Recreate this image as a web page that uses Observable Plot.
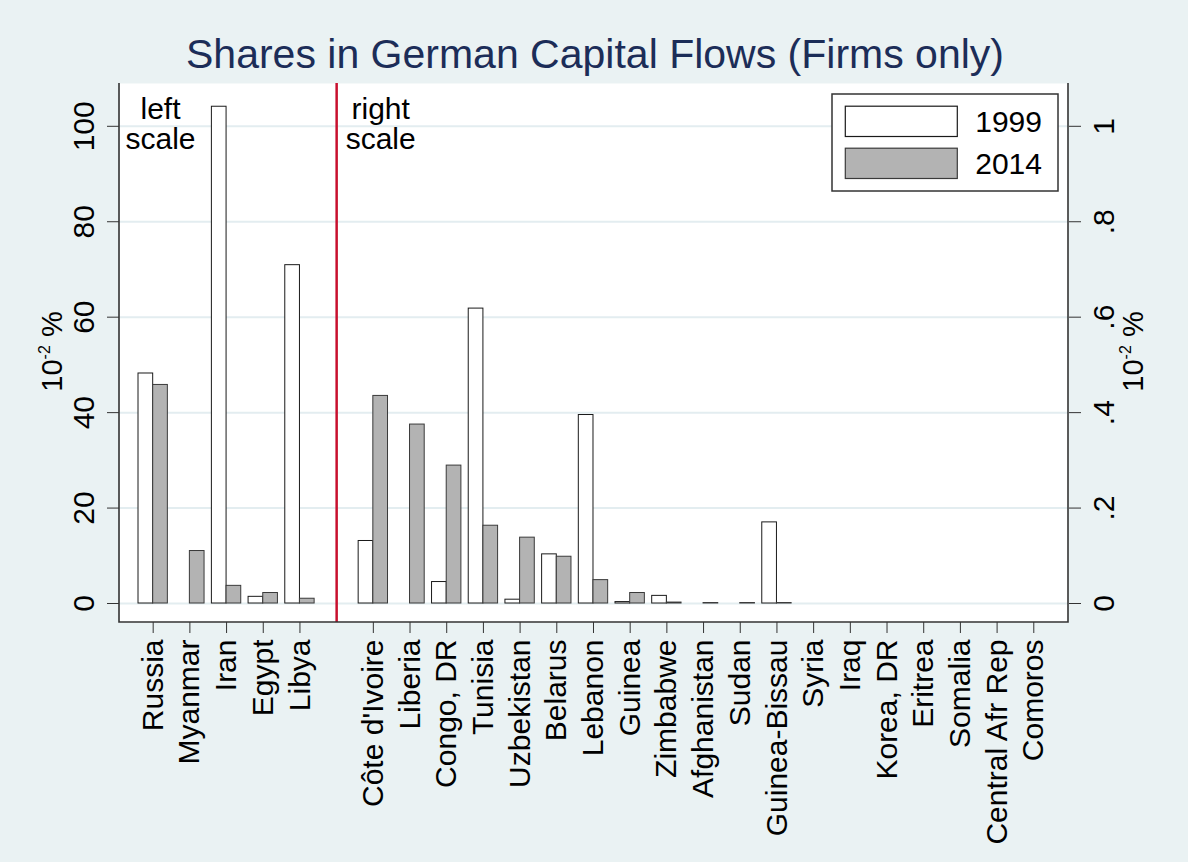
<!DOCTYPE html>
<html>
<head>
<meta charset="utf-8">
<script src="https://cdn.jsdelivr.net/npm/d3@7"></script>
<script src="https://cdn.jsdelivr.net/npm/@observablehq/plot@0.6"></script>
<style>
  html, body { margin: 0; padding: 0; background: #eaf2f3; }
  #chart { width: 1188px; height: 862px; }
  svg { font-family: "Liberation Sans", Arial, Helvetica, sans-serif; }
</style>
</head>
<body>
<div id="chart"></div>
<script>
// ---------------- data ----------------
const title = "Shares in German Capital Flows (Firms only)";
const years = ["1999", "2014"];

// left scale countries (units: 10^-2 %)
const leftCountries = ["Russia", "Myanmar", "Iran", "Egypt", "Libya"];
const left1999 = [48.2, 0, 104.1, 1.4, 70.9];
const left2014 = [45.8, 11.0, 3.7, 2.2, 1.0];

// right scale countries (units: 10^-2 %, right axis)
const rightCountries = ["Côte d'Ivoire", "Liberia", "Congo, DR", "Tunisia", "Uzbekistan",
  "Belarus", "Lebanon", "Guinea", "Zimbabwe", "Afghanistan", "Sudan", "Guinea-Bissau",
  "Syria", "Iraq", "Korea, DR", "Eritrea", "Somalia", "Central Afr Rep", "Comoros"];
const right1999 = [0.131, 0, 0.045, 0.618, 0.008, 0.103, 0.395, 0.003, 0.016, 0, 0, 0.170,
  0, 0, 0, 0, 0, 0, 0];
const right2014 = [0.435, 0.375, 0.289, 0.163, 0.138, 0.098, 0.049, 0.022, 0.002, 0.001, 0.001, 0.001,
  0, 0, 0, 0, 0, 0, 0];

const leftTicks = [0, 20, 40, 60, 80, 100];
const rightTicks = [0, 0.2, 0.4, 0.6, 0.8, 1];
const rightTickLabels = ["0", ".2", ".4", ".6", ".8", "1"];
const axisTitleBase = "10";
const axisTitleSup = "-2";
const axisTitleUnit = " %";
const annotations = ["left\nscale", "right\nscale"];

// ---------------- build table ----------------
const scaleRatio = leftTicks[leftTicks.length - 1] / rightTicks[rightTicks.length - 1]; // 100
const dividerSlot = leftCountries.length;
const rows = [];
const slotLabels = new Map();
leftCountries.forEach((c, i) => {
  slotLabels.set(i, c);
  rows.push({country: c, slot: i, year: years[0], value: left1999[i]});
  rows.push({country: c, slot: i, year: years[1], value: left2014[i]});
});
rightCountries.forEach((c, j) => {
  const s = dividerSlot + 1 + j;
  slotLabels.set(s, c);
  rows.push({country: c, slot: s, year: years[0], value: right1999[j] * scaleRatio});
  rows.push({country: c, slot: s, year: years[1], value: right2014[j] * scaleRatio});
});
const bars = rows.filter(d => d.value > 0);
const slots = [...slotLabels.keys()];
const rightLabelMap = new Map(rightTicks.map((v, i) => [v * scaleRatio, rightTickLabels[i]]));

const W = 1188, H = 862;
const M = {top: 83, right: 120, bottom: 240, left: 119};
const fillOf = {"1999": "#ffffff", "2014": "#b3b3b3"};
const strokeOf = {"1999": "#1a1a1a", "2014": "#3a3a3a"};
const FS = 30;

const plot = Plot.plot({
  width: W,
  height: H,
  marginTop: M.top,
  marginRight: M.right,
  marginBottom: M.bottom,
  marginLeft: M.left,
  style: {background: "transparent", fontFamily: "Liberation Sans, Arial, sans-serif", color: "#000"},
  x: {type: "linear", domain: [-0.918, slots[slots.length - 1] + 0.946], axis: null},
  y: {domain: [-3.98, 108.97], axis: null},
  marks: [
    Plot.frame({fill: "white", stroke: null}),
    Plot.gridY(leftTicks, {stroke: "#e3edf0", strokeOpacity: 1, strokeWidth: 2}),
    Plot.rect(bars, {
      x1: d => d.year === years[0] ? d.slot - 0.4 : d.slot,
      x2: d => d.year === years[0] ? d.slot : d.slot + 0.4,
      y1: 0,
      y2: "value",
      fill: d => fillOf[d.year],
      stroke: d => strokeOf[d.year],
      strokeWidth: 1
    }),
    Plot.ruleX([dividerSlot], {stroke: "#c8102e", strokeWidth: 2.5}),
    Plot.text([annotations[0]], {text: d => d, frameAnchor: "top-left", dx: 41, dy: 14,
      textAnchor: "middle", lineAnchor: "top", fontSize: FS, lineHeight: 1.01, fill: "#000"}),
    Plot.text([{label: annotations[1], slot: dividerSlot}], {text: "label", x: "slot", frameAnchor: "top",
      dx: 44, dy: 14, textAnchor: "middle", lineAnchor: "top", fontSize: FS, lineHeight: 1.01, fill: "#000"}),
    Plot.axisY(leftTicks, {anchor: "left", tickSize: 12, tickPadding: 13.5, tickRotate: -90,
      textAnchor: "middle", lineAnchor: "bottom", fontSize: FS, stroke: "#333", fill: "#000",
      tickFormat: d => String(d), label: null}),
    Plot.axisY(rightTicks.map(v => v * scaleRatio), {anchor: "right", tickSize: 12, tickPadding: 12,
      tickRotate: -90, textAnchor: "middle", lineAnchor: "top", fontSize: FS, stroke: "#333", fill: "#000",
      tickFormat: d => rightLabelMap.get(d), label: null}),
    Plot.axisX(slots, {anchor: "bottom", tickSize: 11, tickPadding: 6, tickRotate: -90,
      textAnchor: "end", lineAnchor: "middle", fontSize: FS, stroke: "#333", fill: "#000",
      tickFormat: d => slotLabels.get(d), label: null})
  ]
});

document.getElementById("chart").appendChild(plot);
const svg = d3.select(plot);

// axis lines (left, bottom, right)
const L = M.left, R = W - M.right, T = M.top, B = H - M.bottom;
const lines = svg.append("g").attr("stroke", "#333").attr("stroke-width", 1.6).attr("fill", "none");
lines.append("path").attr("d", `M${L},${T}V${B}H${R}V${T}`);

// title
svg.append("text")
  .attr("x", 595).attr("y", 67.5)
  .attr("text-anchor", "middle")
  .attr("font-size", 41)
  .attr("fill", "#1c2d58")
  .text(title);

// axis titles with superscript
function axisTitle(x, y) {
  const t = svg.append("text")
    .attr("transform", `translate(${x},${y}) rotate(-90)`)
    .attr("text-anchor", "middle")
    .attr("font-size", 29)
    .attr("fill", "#000");
  t.append("tspan").text(axisTitleBase);
  t.append("tspan").attr("font-size", 16).attr("dy", -12).text(axisTitleSup);
  t.append("tspan").attr("dy", 12).text(axisTitleUnit);
}
axisTitle(62, 351.5);
axisTitle(1143, 351.5);

// legend
const lg = svg.append("g");
lg.append("rect").attr("x", 832).attr("y", 94).attr("width", 226).attr("height", 97)
  .attr("fill", "white").attr("stroke", "#333").attr("stroke-width", 1.5);
years.forEach((yr, i) => {
  const y0 = 106.2 + i * 42;
  lg.append("rect").attr("x", 845.3).attr("y", y0).attr("width", 112).attr("height", 30.3)
    .attr("fill", fillOf[yr]).attr("stroke", strokeOf[yr]).attr("stroke-width", 1.2);
  lg.append("text").attr("x", 1042).attr("y", y0 + 26.1).attr("text-anchor", "end")
    .attr("font-size", FS).attr("fill", "#000").text(yr);
});
</script>
</body>
</html>
